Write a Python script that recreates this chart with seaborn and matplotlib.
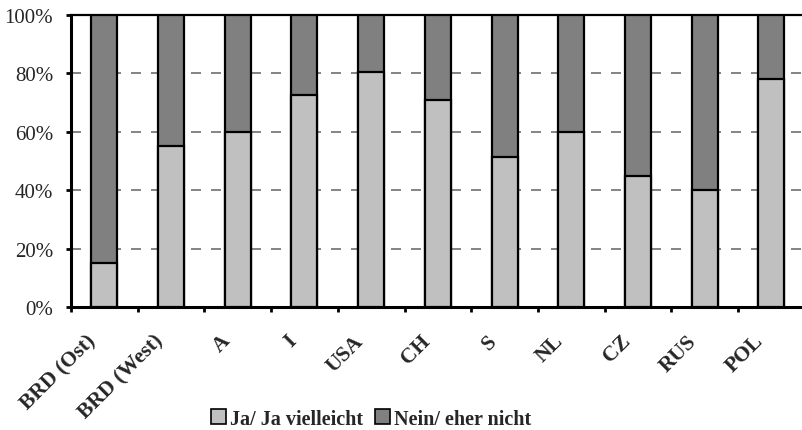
#!/usr/bin/env python3

# Import libraries
import matplotlib
matplotlib.use("Agg")
import pandas as pd
import numpy as np
import matplotlib.pyplot as plt
import matplotlib.transforms as mtransforms
from matplotlib.patches import Patch
import seaborn as sns

# Data (percent per country)
countries = ["BRD (Ost)", "BRD (West)", "A", "I", "USA", "CH", "S", "NL", "CZ", "RUS", "POL"]
ja = [15, 55, 60, 72.5, 80.5, 71, 51.5, 60, 45, 40, 78]
nein = [85, 45, 40, 27.5, 19.5, 29, 48.5, 40, 55, 60, 22]
series_labels = ["Ja/ Ja vielleicht", "Nein/ eher nicht"]
yticks = [0, 20, 40, 60, 80, 100]

df = pd.DataFrame({"Land": countries, "Ja": ja, "Nein": nein})
df["Gesamt"] = df["Ja"] + df["Nein"]

light = "#C0C0C0"
dark = "#808080"

# Style
sns.set_style("white")
plt.rcParams["font.family"] = ["Liberation Serif", "DejaVu Serif"]

fig = plt.figure(figsize=(8.02, 4.31), dpi=100)
ax = fig.add_axes([0.0885, 0.2854, 0.915, 0.6775])

# Stacked bars: full height (dark) first, then the "Ja" share on top
sns.barplot(data=df, x="Land", y="Gesamt", color=dark, saturation=1, width=0.39,
            edgecolor="black", linewidth=1.6, ax=ax, zorder=3)
sns.barplot(data=df, x="Land", y="Ja", color=light, saturation=1, width=0.39,
            edgecolor="black", linewidth=1.6, ax=ax, zorder=4)

ax.set_xlim(-0.5, 10.5)
ax.set_ylim(0, 100)
ax.set_xlabel("")
ax.set_ylabel("")

# Y axis
ax.set_yticks(yticks)
ax.set_yticklabels([f"{v}%" for v in yticks], fontsize=15)
ax.tick_params(axis="y", direction="out", length=3.8, width=2, color="black", pad=9, left=True)
ax.yaxis.grid(True, color="#707070", linestyle=(0, (6, 6)), linewidth=1.2, zorder=0)
ax.set_axisbelow(True)

# X axis: labels at category centres, tick marks between categories
ax.set_xticks(range(len(countries)))
ax.set_xticklabels(countries, rotation=45, ha="right", va="top",
                   rotation_mode="anchor", fontsize=15.5, fontweight="bold")
ax.tick_params(axis="x", which="major", length=0, pad=17)
ax.set_xticks(np.arange(-0.5, len(countries), 1), minor=True)
ax.tick_params(axis="x", which="minor", direction="out", length=3.8, width=2,
               color="black", bottom=True)
offset = mtransforms.ScaledTranslation(-0.18, 0, fig.dpi_scale_trans)
for lab in ax.get_xticklabels():
    lab.set_transform(lab.get_transform() + offset)

# Spines
for side in ["left", "bottom"]:
    ax.spines[side].set_linewidth(2.2)
    ax.spines[side].set_color("black")
ax.spines["top"].set_linewidth(1.6)
ax.spines["top"].set_color("black")
ax.spines["right"].set_visible(False)

# Legend
handles = [Patch(facecolor=light, edgecolor="black", linewidth=1.2),
           Patch(facecolor=dark, edgecolor="black", linewidth=1.2)]
fig.legend(handles, series_labels, loc="center", bbox_to_anchor=(0.463, 0.026),
           ncol=2, frameon=False, prop={"size": 14.5, "weight": "bold"},
           handlelength=0.75, handleheight=0.75, handletextpad=0.2, columnspacing=0.6)

plt.savefig("out.png", dpi=100)
